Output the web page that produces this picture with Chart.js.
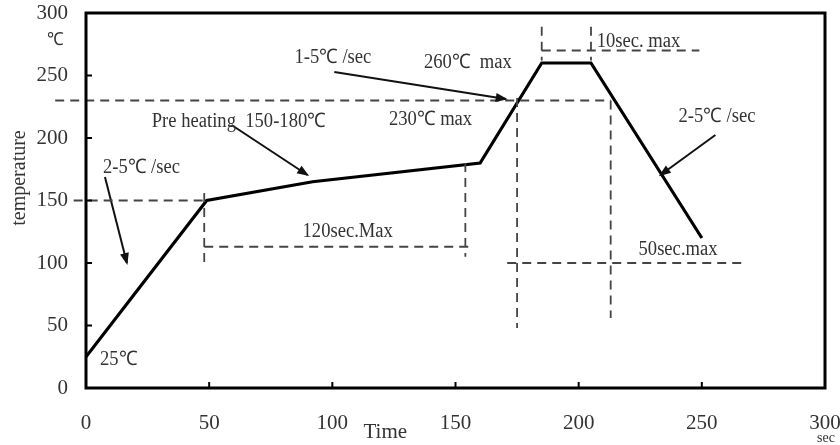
<!DOCTYPE html>
<html>
<head>
<meta charset="utf-8">
<script src="https://cdn.jsdelivr.net/npm/chart.js@4.4.1/dist/chart.umd.min.js"></script>
<style>
  html, body { margin: 0; padding: 0; background: #fff; }
  #wrap { width: 840px; height: 445px; }
</style>
</head>
<body>
<div id="wrap"><canvas id="profile"></canvas></div>
<script>
// reflow profile (time in sec, temperature in °C)
const profileTime = [0, 49, 92, 160, 185, 205, 250];
const profileTemp = [25, 150, 165, 180, 260, 260, 120];

// dashed guide segments [start, end]
const guideX = [[-12.5, 213], [-5, 48], [48, 48], [48, 157], [154, 154], [175, 175], [171, 268], [213, 213], [185, 185], [185, 249], [205, 205]];
const guideY = [[230, 230], [150, 150], [156, 98], [113, 113], [180, 105], [232, 48], [100, 100], [230, 56], [289, 262], [270, 270], [289, 262]];

// arrows [from, to]
const arrowX = [[7.7, 16.6], [59.1, 89.9], [100.8, 170.4], [255.5, 233.2]];
const arrowY = [[168.8, 100], [210.4, 170.4], [252.8, 231.2], [202.4, 170.4]];

// notes
const noteText = ['25℃', '2-5℃ /sec', 'Pre heating  150-180℃', '1-5℃ /sec', '260℃  max', '230℃ max', '10sec. max', '2-5℃ /sec', '120sec.Max', '50sec.max'];
const noteX = [5.7, 6.9, 26.7, 84.6, 137.2, 123, 207.3, 240.5, 87.9, 224.3];
const noteY = [22.4, 176, 212.8, 264, 260, 214.4, 276.8, 216.8, 124.8, 110.4];

const tickValues = [0, 50, 100, 150, 200, 250, 300];

const serif = '"Liberation Serif", "Times New Roman", serif';
const ink = '#333';

const datasets = [];
guideX.forEach((xs, i) => {
  datasets.push({
    data: [{ x: xs[0], y: guideY[i][0] }, { x: xs[1], y: guideY[i][1] }],
    showLine: true, pointRadius: 0, borderColor: '#444', borderWidth: 1.8,
    borderDash: [9, 6], clip: false
  });
});
arrowX.forEach((xs, i) => {
  datasets.push({
    data: [{ x: xs[0], y: arrowY[i][0] }, { x: xs[1], y: arrowY[i][1] }],
    showLine: true, pointRadius: 0, borderColor: '#111', borderWidth: 2, arrow: true
  });
});
datasets.push({
  data: profileTime.map((t, i) => ({ x: t, y: profileTemp[i] })),
  showLine: true, pointRadius: 0, borderColor: '#000', borderWidth: 3.2,
  borderJoinStyle: 'miter'
});

function squeezedText(ctx, text, x, y, size, align, sx) {
  ctx.save();
  ctx.font = size + 'px ' + serif;
  ctx.fillStyle = ink;
  ctx.textBaseline = 'middle';
  ctx.translate(x, y);
  ctx.scale(sx || 0.93, 1);
  ctx.textAlign = align || 'left';
  ctx.fillText(text, 0, 0);
  ctx.restore();
}

const decor = {
  id: 'decor',
  afterDatasetsDraw(chart) {
    const { ctx, chartArea: a, scales: { x, y } } = chart;
    ctx.save();
    // frame
    ctx.strokeStyle = '#000';
    ctx.lineWidth = 3;
    ctx.strokeRect(a.left, a.top, a.right - a.left, a.bottom - a.top);
    // inward ticks
    ctx.lineWidth = 2;
    tickValues.slice(1, -1).forEach(v => {
      const py = y.getPixelForValue(v);
      ctx.beginPath(); ctx.moveTo(a.left, py); ctx.lineTo(a.left + 6, py); ctx.stroke();
      const px = x.getPixelForValue(v);
      ctx.beginPath(); ctx.moveTo(px, a.bottom); ctx.lineTo(px, a.bottom - 6); ctx.stroke();
    });
    // arrow heads
    ctx.fillStyle = '#111';
    chart.data.datasets.forEach(ds => {
      if (!ds.arrow) return;
      const p0 = ds.data[0], p1 = ds.data[1];
      const x0 = x.getPixelForValue(p0.x), y0 = y.getPixelForValue(p0.y);
      const x1 = x.getPixelForValue(p1.x), y1 = y.getPixelForValue(p1.y);
      const ang = Math.atan2(y1 - y0, x1 - x0);
      ctx.save();
      ctx.translate(x1, y1);
      ctx.rotate(ang);
      ctx.beginPath();
      ctx.moveTo(2, 0); ctx.lineTo(-10, -4.5); ctx.lineTo(-10, 4.5); ctx.closePath();
      ctx.fill();
      ctx.restore();
    });
    ctx.restore();
    // notes
    noteText.forEach((t, i) => {
      squeezedText(ctx, t, x.getPixelForValue(noteX[i]), y.getPixelForValue(noteY[i]), 20);
    });
    // axis captions
    squeezedText(ctx, '℃', x.getPixelForValue(-12.6), y.getPixelForValue(278.4), 18, 'center');
    squeezedText(ctx, 'Time', x.getPixelForValue(121.5), y.getPixelForValue(-35.6), 21, 'center', 1);
    squeezedText(ctx, 'sec', x.getPixelForValue(300.4), y.getPixelForValue(-40), 15, 'center');
    ctx.save();
    ctx.translate(x.getPixelForValue(-27), y.getPixelForValue(168));
    ctx.rotate(-Math.PI / 2);
    squeezedText(ctx, 'temperature', 0, 0, 20, 'center', 1);
    ctx.restore();
  }
};

new Chart(document.getElementById('profile'), {
  type: 'scatter',
  data: { datasets },
  options: {
    responsive: true,
    maintainAspectRatio: false,
    animation: false,
    layout: { padding: { left: 0, right: 15, top: 13, bottom: 0 } },
    plugins: { legend: { display: false }, tooltip: { enabled: false } },
    scales: {
      x: {
        type: 'linear', min: 0, max: 300,
        afterBuildTicks: s => { s.ticks = tickValues.map(v => ({ value: v })); },
        afterFit: s => { s.height = 57; s.paddingLeft = 0; s.paddingRight = 0; },
        grid: { display: false, drawTicks: false },
        border: { display: false },
        ticks: { color: ink, padding: 23, font: { family: serif, size: 21 }, maxRotation: 0 }
      },
      y: {
        type: 'linear', min: 0, max: 300,
        afterBuildTicks: s => { s.ticks = tickValues.map(v => ({ value: v })); },
        afterFit: s => { s.width = 86; s.paddingTop = 0; s.paddingBottom = 0; },
        grid: { display: false, drawTicks: false },
        border: { display: false },
        ticks: { color: ink, padding: 18, font: { family: serif, size: 21 } }
      }
    }
  },
  plugins: [decor]
});
</script>
</body>
</html>
